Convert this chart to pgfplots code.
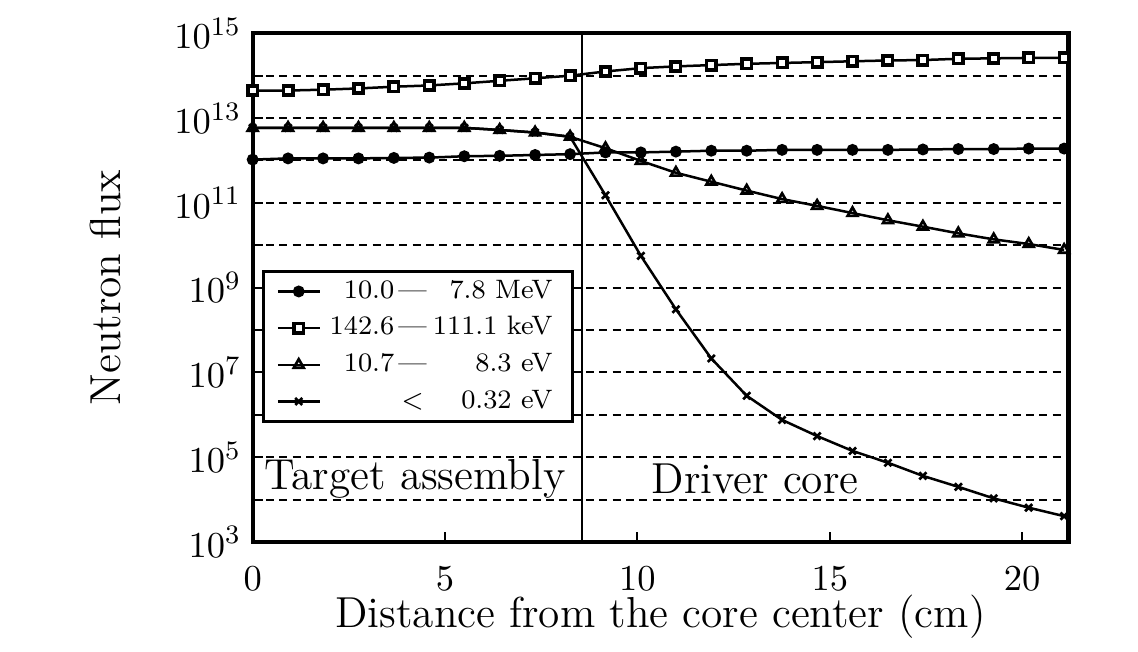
\documentclass[border=0pt]{standalone}
\usepackage{pgfplots}
\pgfplotsset{compat=1.18}
\usepackage{pgfplotstable}

\pgfplotstableread{
x      s1       s2       s3       s4
0.00   1.05e12  4.47e13  5.89e12  5.89e12
0.92   1.12e12  4.47e13  5.89e12  5.89e12
1.83   1.12e12  4.68e13  5.89e12  5.89e12
2.75   1.12e12  5.01e13  5.89e12  5.89e12
3.67   1.15e12  5.50e13  5.89e12  5.89e12
4.59   1.17e12  5.89e13  5.89e12  5.89e12
5.50   1.26e12  6.61e13  5.89e12  5.89e12
6.42   1.29e12  7.59e13  5.25e12  5.25e12
7.34   1.35e12  8.71e13  4.57e12  4.57e12
8.25   1.41e12  1.00e14  3.63e12  3.63e12
9.17   1.55e12  1.26e14  1.95e12  1.51e11
10.09  1.55e12  1.51e14  9.77e11  5.62e9
11.00  1.62e12  1.66e14  5.13e11  3.09e8
11.92  1.70e12  1.78e14  3.16e11  2.14e7
12.84  1.70e12  1.91e14  1.95e11  2.82e6
13.76  1.78e12  2.00e14  1.23e11  7.59e5
14.67  1.78e12  2.09e14  8.51e10  3.16e5
15.59  1.78e12  2.19e14  5.75e10  1.41e5
16.51  1.78e12  2.29e14  3.89e10  7.41e4
17.42  1.82e12  2.34e14  2.75e10  3.63e4
18.34  1.86e12  2.51e14  1.91e10  2.00e4
19.26  1.86e12  2.57e14  1.38e10  1.07e4
20.17  1.91e12  2.63e14  1.07e10  6.46e3
21.09  1.91e12  2.63e14  7.76e9   4.07e3
}\fluxdata

\begin{document}
\begin{tikzpicture}
\begin{axis}[
  scale only axis,
  width=244.7pt, height=152.6pt,
  xmin=0, xmax=21.2,
  ymode=log, ymin=1e3, ymax=1e15,
  xtick={0,5,10,15,20},
  ytick={1e3,1e5,1e7,1e9,1e11,1e13,1e15},
  minor ytick={1e4,1e6,1e8,1e10,1e12,1e14},
  ymajorgrids, yminorgrids,
  major grid style={line width=0.6pt, dash pattern=on 2.4pt off 1.6pt, black},
  minor grid style={line width=0.6pt, dash pattern=on 2.4pt off 1.6pt, black},
  tick align=inside, tick pos=left,
  major tick length=3pt, minor tick length=3pt,
  tick style={line width=0.6pt, black},
  axis line style={line width=1.3pt},
  clip=false,
  tick label style={font=\fontsize{11}{13}\selectfont},
  xticklabel style={yshift=-3.9pt},
  xlabel={Distance from the core center (cm)},
  xlabel style={font=\fontsize{13}{15}\selectfont, at={(axis description cs:0.5,-0.146)}, anchor=center},
  ylabel={Neutron flux},
  ylabel style={font=\fontsize{13}{15}\selectfont, at={(axis description cs:-0.181,0.5)}, anchor=center},
  legend style={at={(axis description cs:0.0114,0.535)}, anchor=north west,
    draw=black, line width=0.8pt, fill=white,
    font=\fontsize{8}{9.5}\selectfont, inner xsep=4pt, inner ysep=0.6pt,
    row sep=0pt, cells={anchor=west, inner ysep=2.4pt}},
  legend image code/.code={\draw[mark repeat=2,mark phase=2] plot coordinates {(0cm,0cm) (0.22cm,0cm) (0.44cm,0cm)};},
]
\addplot[black, line width=0.75pt, mark=*, mark size=1.4pt] table[x=x,y=s1]{\fluxdata};
\addlegendentry{\makebox[20pt][r]{10.0}\makebox[11pt][c]{\textemdash}\makebox[36.5pt][r]{7.8 MeV}}
\addplot[black, line width=0.75pt, mark=square*, mark size=1.4pt, mark options={fill=white, line width=1.1pt}] table[x=x,y=s2]{\fluxdata};
\addlegendentry{\makebox[20pt][r]{142.6}\makebox[11pt][c]{\textemdash}\makebox[36.5pt][r]{111.1 keV}}
\addplot[black, line width=0.75pt, mark=triangle, mark size=1.7pt, mark options={line width=0.8pt}] table[x=x,y=s3]{\fluxdata};
\addlegendentry{\makebox[20pt][r]{10.7}\makebox[11pt][c]{\textemdash}\makebox[36.5pt][r]{8.3 eV}}
\addplot[black, line width=0.75pt, mark=x, mark size=1.5pt, mark options={line width=0.8pt}] table[x=x,y=s4]{\fluxdata};
\addlegendentry{\makebox[20pt][r]{}\makebox[11pt][c]{$<$}\makebox[36.5pt][r]{0.32 eV}}
\addplot[black, line width=0.6pt, forget plot] coordinates {(8.56,1e3) (8.56,1e15)};
\node[font=\fontsize{13}{15}\selectfont] at (axis cs:4.22,3.1e4) {Target assembly};
\node[font=\fontsize{13}{15}\selectfont] at (axis cs:13.06,3.1e4) {Driver core};
\end{axis}
\path (current axis.south west) ++(-75.8pt,-32.7pt) coordinate (bbA);
\path (current axis.north east) ++(20.9pt,10pt) coordinate (bbB);
\path (bbA) rectangle (bbB);
\end{tikzpicture}
\end{document}
